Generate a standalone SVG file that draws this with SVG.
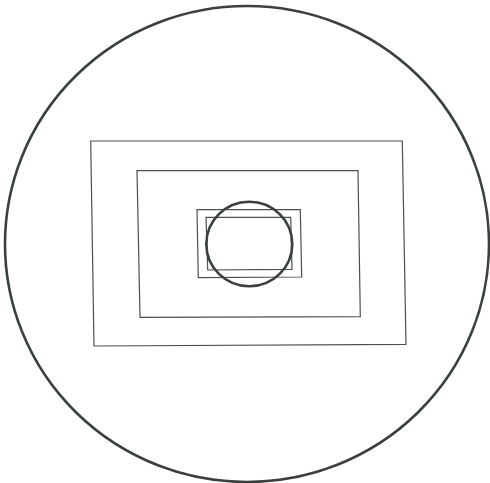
<svg xmlns="http://www.w3.org/2000/svg" width="490" height="483" viewBox="0 0 490 483">
<style>
.ring{fill:none;stroke:#3a4040;stroke-width:2.6}
.frame{fill:none;stroke:#4a5050;stroke-width:1.2}
</style>
<rect width="490" height="483" fill="#ffffff"/>
<g id="outer-circle"><ellipse class="ring" cx="247" cy="244" rx="242" ry="238"/></g>
<g id="rect-1"><polygon class="frame" points="90.7,141 402.3,141 406,344.3 94,346"/></g>
<g id="rect-2"><polygon class="frame" points="137,170.7 358,170.7 360.3,316.7 140,317.3"/></g>
<g id="rect-3"><polygon class="frame" points="197,209.7 300.3,209.7 301.7,277 198.3,277.7"/></g>
<g id="rect-4"><polygon class="frame" points="206,217.3 290.7,217.3 292,269.3 207.7,270"/></g>
<g id="inner-circle"><ellipse class="ring" cx="249.3" cy="244" rx="43" ry="42.3"/></g>
<g id="connectors"></g>
</svg>
